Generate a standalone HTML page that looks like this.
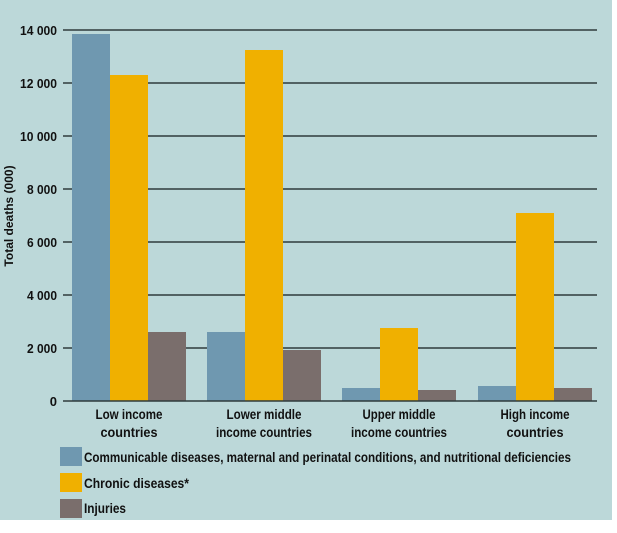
<!DOCTYPE html>
<html><head><style>
body{margin:0;background:#fff;}
svg text{font-family:"Liberation Sans Narrow","Liberation Sans",sans-serif;font-weight:bold;fill:#111;}
</style></head><body>
<svg width="617" height="528" xmlns="http://www.w3.org/2000/svg">
<rect x="0" y="0" width="612" height="520" fill="#bcd8d9"/>
<g stroke="#2f3a3c" stroke-width="1.5">
<line x1="63" y1="30" x2="597" y2="30"/>
<line x1="63" y1="83" x2="597" y2="83"/>
<line x1="63" y1="136" x2="597" y2="136"/>
<line x1="63" y1="189" x2="597" y2="189"/>
<line x1="63" y1="242" x2="597" y2="242"/>
<line x1="63" y1="295" x2="597" y2="295"/>
<line x1="63" y1="348" x2="597" y2="348"/>
</g>
<g font-size="13" text-anchor="end">
<text x="57" y="35" textLength="37" lengthAdjust="spacingAndGlyphs">14 000</text>
<text x="57" y="88" textLength="37" lengthAdjust="spacingAndGlyphs">12 000</text>
<text x="57" y="141" textLength="37" lengthAdjust="spacingAndGlyphs">10 000</text>
<text x="57" y="194" textLength="30" lengthAdjust="spacingAndGlyphs">8 000</text>
<text x="57" y="247" textLength="30" lengthAdjust="spacingAndGlyphs">6 000</text>
<text x="57" y="300" textLength="30" lengthAdjust="spacingAndGlyphs">4 000</text>
<text x="57" y="353" textLength="30" lengthAdjust="spacingAndGlyphs">2 000</text>
<text x="57" y="406">0</text>
</g>
<text font-size="12" transform="translate(13,216) rotate(-90)" text-anchor="middle">Total deaths (000)</text>
<g fill="#6f98b0">
<rect x="72" y="34" width="38" height="367"/>
<rect x="207" y="332" width="38" height="69"/>
<rect x="342" y="388" width="38" height="13"/>
<rect x="478" y="386" width="38" height="15"/>
</g>
<g fill="#f0b000">
<rect x="110" y="75" width="38" height="326"/>
<rect x="245" y="50" width="38" height="351"/>
<rect x="380" y="328" width="38" height="73"/>
<rect x="516" y="213" width="38" height="188"/>
</g>
<g fill="#7a6e6c">
<rect x="148" y="332" width="38" height="69"/>
<rect x="283" y="350" width="38" height="51"/>
<rect x="418" y="390" width="38" height="11"/>
<rect x="554" y="388" width="38" height="13"/>
</g>
<line x1="63" y1="401" x2="597" y2="401" stroke="#2f3a3c" stroke-width="1.5"/>
<g font-size="14" text-anchor="middle">
<text x="129" y="419" textLength="67" lengthAdjust="spacingAndGlyphs">Low income</text><text x="129" y="437" textLength="57" lengthAdjust="spacingAndGlyphs">countries</text>
<text x="264" y="419" textLength="75" lengthAdjust="spacingAndGlyphs">Lower middle</text><text x="264" y="437" textLength="96" lengthAdjust="spacingAndGlyphs">income countries</text>
<text x="399" y="419" textLength="73" lengthAdjust="spacingAndGlyphs">Upper middle</text><text x="399" y="437" textLength="96" lengthAdjust="spacingAndGlyphs">income countries</text>
<text x="535" y="419" textLength="69" lengthAdjust="spacingAndGlyphs">High income</text><text x="535" y="437" textLength="57" lengthAdjust="spacingAndGlyphs">countries</text>
</g>
<rect x="60" y="447" width="22" height="19" fill="#6f98b0"/>
<rect x="60" y="473" width="22" height="19" fill="#f0b000"/>
<rect x="60" y="499" width="22" height="19" fill="#7a6e6c"/>
<g font-size="14">
<text x="84" y="462" textLength="487" lengthAdjust="spacingAndGlyphs">Communicable diseases, maternal and perinatal conditions, and nutritional deficiencies</text>
<text x="84" y="488" textLength="105" lengthAdjust="spacingAndGlyphs">Chronic diseases*</text>
<text x="84" y="513" textLength="42" lengthAdjust="spacingAndGlyphs">Injuries</text>
</g>
</svg>
</body></html>
